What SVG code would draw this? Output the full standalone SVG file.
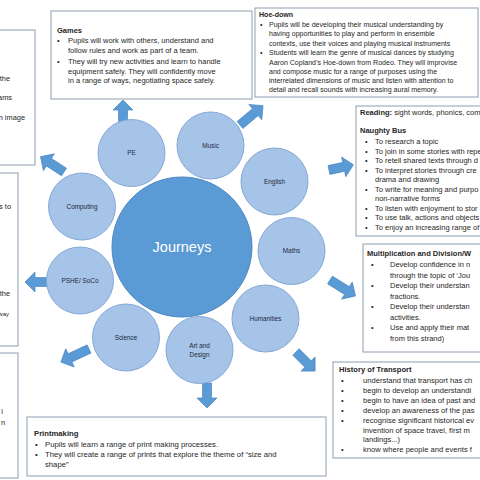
<svg xmlns="http://www.w3.org/2000/svg" width="480" height="480" viewBox="0 0 480 480">
<defs>
<style>
.box{fill:#fff;stroke:#8d9db2;stroke-width:1}
.tx{font-family:"Liberation Sans",Arial,sans-serif;fill:#262626}
.hd{font-weight:bold}
.sc{fill:#a6c3e8;stroke:#85a8d6;stroke-width:1}
.cl{font-family:"Liberation Sans",Arial,sans-serif;font-size:6.4px;fill:#1e2a3a;text-anchor:middle}
.ar{fill:#5b9bd5;stroke:#4a85c2;stroke-width:0.7}
</style>
</defs>
<rect width="480" height="480" fill="#fff"/>

<g id="box-left1">
<rect class="box" x="-2" y="30" width="37" height="135"/>
<g class="tx" font-size="7.4" text-anchor="end">
<text x="10" y="81">the</text>
<text x="12" y="100">ams</text>
<text x="25" y="120">n image</text>
</g>
</g>

<g id="box-left2">
<rect class="box" x="-2" y="173" width="20" height="173"/>
<g class="tx" font-size="7.4" text-anchor="end">
<text x="11" y="209">s to</text>
<text x="10" y="296">the</text>
<text x="9" y="316" font-size="6">way</text>
</g>
</g>

<g id="box-left3">
<rect class="box" x="-2" y="353" width="20" height="125"/>
<g class="tx" font-size="7.4" text-anchor="end">
<text x="3" y="414">l</text>
<text x="5" y="425">n</text>
</g>
</g>

<g id="box-games">
<rect class="box" x="51" y="11" width="201" height="88"/>
<g class="tx" font-size="7.5">
<text class="hd" x="57" y="33">Games</text>
<text x="57" y="43">•</text>
<text x="68" y="43">Pupils will work with others, understand and</text>
<text x="68" y="53">follow rules and work as part of a team.</text>
<text x="57" y="63.5">•</text>
<text x="68" y="63.5">They will try new activities and learn to handle</text>
<text x="68" y="73.5">equipment safely.  They will confidently move</text>
<text x="68" y="83">in a range of ways, negotiating space safely.</text>
</g>
</g>

<g id="box-hoedown">
<rect class="box" x="255" y="8" width="223" height="89"/>
<g class="tx" font-size="7.05">
<text class="hd" x="259" y="16.5">Hoe-down</text>
<text x="260" y="26.5">•</text>
<text x="269" y="26.5">Pupils will be developing their musical understanding by</text>
<text x="269" y="36">having opportunities to play and perform in ensemble</text>
<text x="269" y="45.5">contexts, use their voices and playing musical instruments</text>
<text x="260" y="55">•</text>
<text x="269" y="55">Students will learn the genre of musical dances by studying</text>
<text x="269" y="64.5">Aaron Copland’s Hoe-down from Rodeo. They will improvise</text>
<text x="269" y="74">and compose music for a range of purposes using the</text>
<text x="269" y="83">interrelated dimensions of music and listen with attention to</text>
<text x="269" y="92">detail and recall sounds with increasing aural memory.</text>
</g>
</g>

<g id="box-reading">
<rect class="box" x="356" y="106" width="130" height="130"/>
<g class="tx" font-size="7.5">
<text x="360" y="115"><tspan class="hd">Reading:</tspan> sight words, phonics, com</text>
<text class="hd" x="360" y="133">Naughty Bus</text>
<text x="365" y="144">•</text><text x="375" y="144">To research a topic</text>
<text x="365" y="153.5">•</text><text x="375" y="153.5">To join in some stories with repe</text>
<text x="365" y="163">•</text><text x="375" y="163">To retell shared texts through d</text>
<text x="365" y="172.5">•</text><text x="375" y="172.5">To interpret stories through cre</text>
<text x="375" y="182">drama and drawing</text>
<text x="365" y="191.5">•</text><text x="375" y="191.5">To write for meaning and purpo</text>
<text x="375" y="201">non-narrative forms</text>
<text x="365" y="210.5">•</text><text x="375" y="210.5">To listen with enjoyment to stor</text>
<text x="365" y="220">•</text><text x="375" y="220">To use talk, actions and objects</text>
<text x="365" y="229.5">•</text><text x="375" y="229.5">To enjoy an increasing range of</text>
</g>
</g>

<g id="box-maths">
<rect class="box" x="363" y="244" width="123" height="108"/>
<g class="tx" font-size="7.5">
<text class="hd" x="367" y="256">Multiplication and Division/W</text>
<text x="371" y="267">•</text><text x="390" y="267">Develop confidence in n</text>
<text x="390" y="277.5">through the topic of ‘Jou</text>
<text x="371" y="288">•</text><text x="390" y="288">Develop their understan</text>
<text x="390" y="298.5">fractions.</text>
<text x="371" y="309">•</text><text x="390" y="309">Develop their understan</text>
<text x="390" y="319.5">activities.</text>
<text x="371" y="330">•</text><text x="390" y="330">Use and apply their mat</text>
<text x="390" y="340.5">from this strand)</text>
</g>
</g>

<g id="box-history">
<rect class="box" x="333" y="362" width="153" height="96"/>
<g class="tx" font-size="7.6">
<text class="hd" x="339" y="372">History of Transport</text>
<text x="341" y="382.5">•</text><text x="363" y="382.5">understand that transport has ch</text>
<text x="341" y="392.5">•</text><text x="363" y="392.5">begin to develop an understandi</text>
<text x="341" y="402.5">•</text><text x="363" y="402.5">begin to have an idea of past and</text>
<text x="341" y="412.5">•</text><text x="363" y="412.5">develop an awareness of the pas</text>
<text x="341" y="422.5">•</text><text x="363" y="422.5">recognise significant historical ev</text>
<text x="363" y="432.5">invention of space travel, first m</text>
<text x="363" y="442">landings...)</text>
<text x="341" y="451.5">•</text><text x="363" y="451.5">know where people and events f</text>
</g>
</g>

<g id="box-printmaking">
<rect class="box" x="27" y="417" width="299" height="59"/>
<g class="tx" font-size="7.7">
<text class="hd" x="34" y="436">Printmaking</text>
<text x="35" y="447">•</text><text x="45" y="447">Pupils will learn a range of print making processes.</text>
<text x="35" y="457">•</text><text x="45" y="457">They will create a range of prints that explore the theme of “size and</text>
<text x="45" y="467">shape”</text>
</g>
</g>

<g id="connectors">
<path class="ar" d="M0,-4.5 H17 V-10 L27,0 L17,10 V4.5 H0 Z" transform="translate(123,127) rotate(-90)"/>
<path class="ar" d="M0,-4.5 H20 V-10 L30,0 L20,10 V4.5 H0 Z" transform="translate(240,125) rotate(-40)"/>
<path class="ar" d="M0,-4.5 H15 V-10 L25,0 L15,10 V4.5 H0 Z" transform="translate(329,170) rotate(-12)"/>
<path class="ar" d="M0,-4.5 H20 V-10 L30,0 L20,10 V4.5 H0 Z" transform="translate(330,280) rotate(32)"/>
<path class="ar" d="M0,-4.5 H17 V-10 L27,0 L17,10 V4.5 H0 Z" transform="translate(296,352) rotate(45)"/>
<path class="ar" d="M0,-4.5 H15 V-10 L25,0 L15,10 V4.5 H0 Z" transform="translate(207,383) rotate(90)"/>
<path class="ar" d="M0,-4.5 H21 V-10 L31,0 L21,10 V4.5 H0 Z" transform="translate(89,349) rotate(155)"/>
<path class="ar" d="M0,-4.5 H20 V-10 L30,0 L20,10 V4.5 H0 Z" transform="translate(55,282) rotate(180)"/>
<path class="ar" d="M0,-4.5 H18 V-10 L28,0 L18,10 V4.5 H0 Z" transform="translate(64,172) rotate(-147)"/>
</g>

<g id="journeys">
<circle cx="182" cy="247" r="70" fill="#5b9bd5" stroke="#4f88c2" stroke-width="1"/>
<text x="182" y="252" font-family="'Liberation Sans',Arial,sans-serif" font-size="14.5" fill="#fff" text-anchor="middle">Journeys</text>
</g>
<g id="pe"><circle class="sc" cx="131.5" cy="153" r="33.5"/><text class="cl" x="131.5" y="155.3">PE</text></g>
<g id="music"><circle class="sc" cx="210.5" cy="145.5" r="33.5"/><text class="cl" x="210.5" y="147.8">Music</text></g>
<g id="english"><circle class="sc" cx="274.5" cy="181.5" r="33.5"/><text class="cl" x="274.5" y="183.8">English</text></g>
<g id="maths"><circle class="sc" cx="291.5" cy="251" r="33.5"/><text class="cl" x="291.5" y="253.3">Maths</text></g>
<g id="humanities"><circle class="sc" cx="265.5" cy="318.5" r="33.5"/><text class="cl" x="265.5" y="320.8">Humanities</text></g>
<g id="art"><circle class="sc" cx="199.5" cy="350" r="33.5"/><text class="cl" x="199.5" y="348">Art and</text><text class="cl" x="199.5" y="357">Design</text></g>
<g id="science"><circle class="sc" cx="126" cy="337.5" r="33.5"/><text class="cl" x="126" y="339.8">Science</text></g>
<g id="pshe"><circle class="sc" cx="80" cy="280.5" r="33.5"/><text class="cl" x="80" y="282.8">PSHE/ SoCo</text></g>
<g id="computing"><circle class="sc" cx="82" cy="206.5" r="33.5"/><text class="cl" x="82" y="208.8">Computing</text></g>
</svg>
